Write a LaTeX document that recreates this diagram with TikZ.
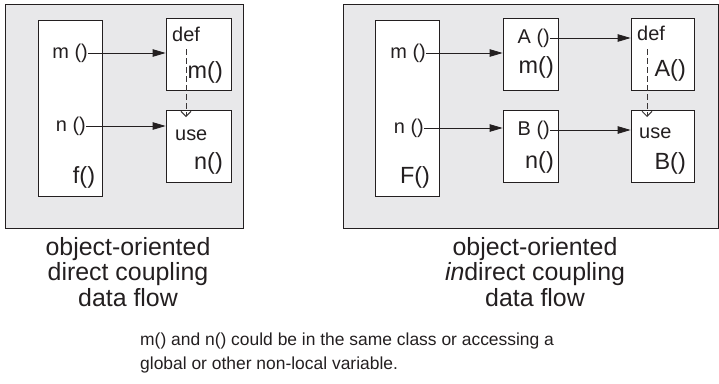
\documentclass[tikz,border=0pt]{standalone}
\usepackage{fontspec}
\setmainfont{Liberation Sans}
\definecolor{ink}{HTML}{231F20}
\definecolor{panelgray}{HTML}{E8E8EA}
\usetikzlibrary{arrows.meta}

\begin{document}
\begin{tikzpicture}[x=1bp,y=-1bp,>=Stealth,every node/.style={text=ink,inner sep=0pt},
  panel/.style={draw=ink,fill=panelgray,line width=0.9bp},
  box/.style={draw=ink,fill=white,rectangle,line width=0.8bp,minimum height=72bp},
  small/.style={font=\fontsize{20}{22}\selectfont},
  big/.style={font=\fontsize{23.5}{26}\selectfont},
  call/.style={draw=ink,line width=0.8bp,-{Triangle[length=13bp,width=7.5bp]}},
  flow/.style={draw=ink!90,dashed,dash pattern=on 6bp off 3bp,line width=0.9bp,-{Straight Barb[length=5bp,width=10bp,line width=1bp]}}]
\useasboundingbox (0,0) rectangle (719,383);
% panels
\path[panel] (5,4) rectangle (243,228);
\path[panel] (343,4) rectangle (718,228);
% direct coupling
\node[box,minimum width=64bp,minimum height=176bp] (f) at (70,108) {};
\node[box,minimum width=65bp] (defL) at (198.5,54) {};
\node[box,minimum width=65bp] (useL) at (198.5,146) {};
\node[small,anchor=east] (fm) at (88,53) {m ()};
\node[small,anchor=east] (fn) at (86,126) {n ()};
\node[big] (fname) at (84,177) {f()};
\node[small,anchor=west] (defLt) at (172,34) {def};
\node[big,anchor=east] (defLm) at (223,72) {m()};
\node[small,anchor=west] (useLt) at (175,135) {use};
\node[big,anchor=east] (useLn) at (223,163) {n()};
\coordinate (dL1) at (186,49);
\coordinate (dL2) at (186,117);
\draw[call] (fm.east) -- (fm.east -| defL.west);
\draw[call] (fn.east) -- (fn.east -| useL.west);
\draw[flow] (dL1) -- (dL2);
% indirect coupling
\node[box,minimum width=64bp,minimum height=176bp] (F) at (407,108) {};
\node[box,minimum width=55bp] (A) at (530.5,54) {};
\node[box,minimum width=55bp] (B) at (530.5,146) {};
\node[box,minimum width=63bp] (defR) at (662.5,54) {};
\node[box,minimum width=63bp] (useR) at (662.5,146) {};
\node[small,anchor=east] (Fm) at (426,53) {m ()};
\node[small,anchor=east] (Fn) at (424,128) {n ()};
\node[big] (Fname) at (415,177) {F()};
\node[small,anchor=east] (At) at (550,38) {A ()};
\node[big,anchor=east] (Am) at (554,67) {m()};
\node[small,anchor=east] (Bt) at (550,130) {B ()};
\node[big,anchor=east] (Bn) at (554,162) {n()};
\node[small,anchor=west] (defRt) at (637,33) {def};
\node[big,anchor=east] (defRA) at (686,70) {A()};
\node[small,anchor=west] (useRt) at (639,133) {use};
\node[big,anchor=east] (useRB) at (686,163) {B()};
\coordinate (dR1) at (647,49);
\coordinate (dR2) at (647,117);
\draw[call] (Fm.east) -- (Fm.east -| A.west);
\draw[call] (Fn.east) -- (Fn.east -| B.west);
\draw[call] (At.east) -- (At.east -| defR.west);
\draw[call] (Bt.east) -- (Bt.east -| useR.west);
\draw[flow] (dR1) -- (dR2);
% captions
\node[align=center,font=\fontsize{25}{26}\selectfont] (capL) at (128,272) {object-oriented\\direct coupling\\data flow};
\node[align=center,font=\fontsize{25}{26}\selectfont] (capR) at (535,272) {object-oriented\\\textit{in}direct coupling\\data flow};
\node[align=left,anchor=west,font=\fontsize{17.5}{24}\selectfont] (note) at (140,353) {m() and n() could be in the same class or accessing a\\global or other non-local variable.};
\end{tikzpicture}
\end{document}
